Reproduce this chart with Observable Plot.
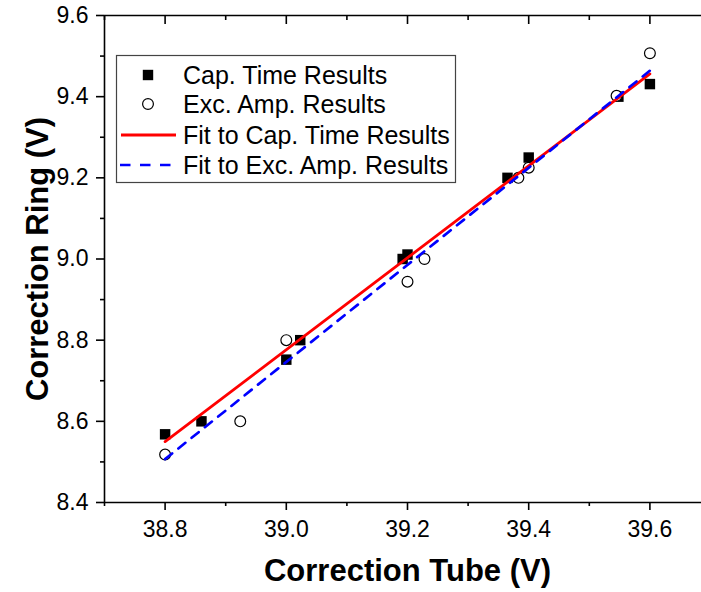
<!DOCTYPE html>
<html><head><meta charset="utf-8">
<script src="https://cdn.jsdelivr.net/npm/d3@7"></script>
<script src="https://cdn.jsdelivr.net/npm/@observablehq/plot@0.6"></script>
<style>
body{margin:0;background:#fff;}
#wrap{position:relative;width:701px;height:592px;overflow:hidden;background:#fff;}
#overlay{position:absolute;left:0;top:0;pointer-events:none;}
</style></head><body><div id="wrap"></div>
<script>
// Cap. Time Results (filled squares)
const capX = [38.80, 38.86, 39.00, 39.023, 39.192, 39.20, 39.365, 39.40, 39.548, 39.60];
const capY = [8.568, 8.60, 8.752, 8.80, 9.00, 9.011, 9.20, 9.25, 9.40, 9.431];
// Exc. Amp. Results (open circles)
const excX = [38.80, 38.924, 39.00, 39.20, 39.228, 39.383, 39.40, 39.545, 39.60];
const excY = [8.518, 8.60, 8.80, 8.944, 9.00, 9.20, 9.225, 9.402, 9.507];
// Fit lines (end points)
const fitX = [38.80, 39.60];
const fitCapY = [8.550, 9.456];
const fitExcY = [8.507, 9.464];
// Ticks
const xTicks = [38.8, 39.0, 39.2, 39.4, 39.6];
const xMinor = [38.7, 38.9, 39.1, 39.3, 39.5, 39.7];
const yTicks = [8.4, 8.6, 8.8, 9.0, 9.2, 9.4, 9.6];
const yMinor = [8.5, 8.7, 8.9, 9.1, 9.3, 9.5];
const xDomain = [38.7, 39.7];
const yDomain = [8.4, 9.6];
const xTitle = "Correction Tube (V)";
const yTitle = "Correction Ring (V)";
const legendNames = ["Cap. Time Results", "Exc. Amp. Results", "Fit to Cap. Time Results", "Fit to Exc. Amp. Results"];

const cap = capX.map((x, i) => ({x, y: capY[i]}));
const exc = excX.map((x, i) => ({x, y: excY[i]}));
const fitCap = fitX.map((x, i) => ({x, y: fitCapY[i]}));
const fitExc = fitX.map((x, i) => ({x, y: fitExcY[i]}));
const fmt = d => d.toFixed(1);
const blank = () => "";
const font = "'Liberation Sans', Arial, sans-serif";

const plot = Plot.plot({
  width: 710, height: 592,
  marginLeft: 104, marginRight: 0, marginTop: 15, marginBottom: 90,
  style: {fontFamily: font, maxWidth: "none", background: "white", color: "black"},
  x: {domain: xDomain, axis: null},
  y: {domain: yDomain, axis: null},
  marks: [
    Plot.dot(cap, {x: "x", y: "y", symbol: "square", r: 5.9, fill: "black", stroke: "none"}),
    Plot.dot(exc, {x: "x", y: "y", symbol: "circle", r: 5.4, fill: "white", stroke: "black", strokeWidth: 1.2}),
    Plot.line(fitCap, {x: "x", y: "y", stroke: "#ff0000", strokeWidth: 2.8}),
    Plot.line(fitExc, {x: "x", y: "y", stroke: "#0000ff", strokeWidth: 2.7, strokeDasharray: "9,8"}),
    Plot.ruleX([xDomain[0]], {stroke: "black", strokeWidth: 1.6}),
    Plot.ruleY(yDomain, {stroke: "black", strokeWidth: 1.6}),
    Plot.axisX(xTicks, {anchor: "bottom", tickSize: 8, tickPadding: 10, fontSize: 23, strokeWidth: 1.6, tickFormat: fmt, label: null}),
    Plot.axisX(xMinor, {anchor: "bottom", tickSize: 4, strokeWidth: 1.6, tickFormat: blank, label: null}),
    Plot.axisX(xTicks, {anchor: "top", tickSize: -8, strokeWidth: 1.6, tickFormat: blank, label: null}),
    Plot.axisX(xMinor, {anchor: "top", tickSize: -4, strokeWidth: 1.6, tickFormat: blank, label: null}),
    Plot.axisY(yTicks, {anchor: "left", tickSize: 8, tickPadding: 8, fontSize: 23, strokeWidth: 1.6, tickFormat: fmt, label: null}),
    Plot.axisY(yMinor, {anchor: "left", tickSize: 4, strokeWidth: 1.6, tickFormat: blank, label: null}),
    Plot.axisY(yTicks, {anchor: "right", tickSize: -10, strokeWidth: 1.6, tickFormat: blank, label: null}),
    Plot.text([xTitle], {text: d => d, frameAnchor: "bottom", textAnchor: "middle", dy: 69, lineAnchor: "middle", fontSize: 31, fontWeight: "bold", fill: "black"}),
    Plot.text([yTitle], {text: d => d, frameAnchor: "left", textAnchor: "middle", dx: -66, rotate: -90, lineAnchor: "middle", fontSize: 31, fontWeight: "bold", fill: "black"})
  ]
});
const wrap = document.getElementById("wrap");
wrap.appendChild(plot);

// Legend overlay
const svg = d3.select(wrap).append("svg").attr("id", "overlay").attr("width", 701).attr("height", 592);
const g = svg.append("g").attr("font-family", font);
g.append("rect").attr("x", 116.5).attr("y", 55.5).attr("width", 339).attr("height", 127)
  .attr("fill", "white").attr("stroke", "#444").attr("stroke-width", 1.2);
const rowY = [75, 104, 135, 165];
g.append("rect").attr("x", 148 - 5.2).attr("y", rowY[0] - 5.2).attr("width", 10.4).attr("height", 10.4).attr("fill", "black");
g.append("circle").attr("cx", 148).attr("cy", rowY[1]).attr("r", 5.4).attr("fill", "white").attr("stroke", "black").attr("stroke-width", 1.2);
g.append("line").attr("x1", 121).attr("x2", 176).attr("y1", rowY[2]).attr("y2", rowY[2]).attr("stroke", "#ff0000").attr("stroke-width", 2.8);
g.append("line").attr("x1", 120).attr("x2", 172).attr("y1", rowY[3]).attr("y2", rowY[3]).attr("stroke", "#0000ff").attr("stroke-width", 2.7).attr("stroke-dasharray", "10.5,9.5");
legendNames.forEach((t, i) => {
  g.append("text").attr("x", 183).attr("y", rowY[i]).attr("dy", "0.36em").attr("font-size", 25).attr("fill", "black").text(t);
});
</script></body></html>
